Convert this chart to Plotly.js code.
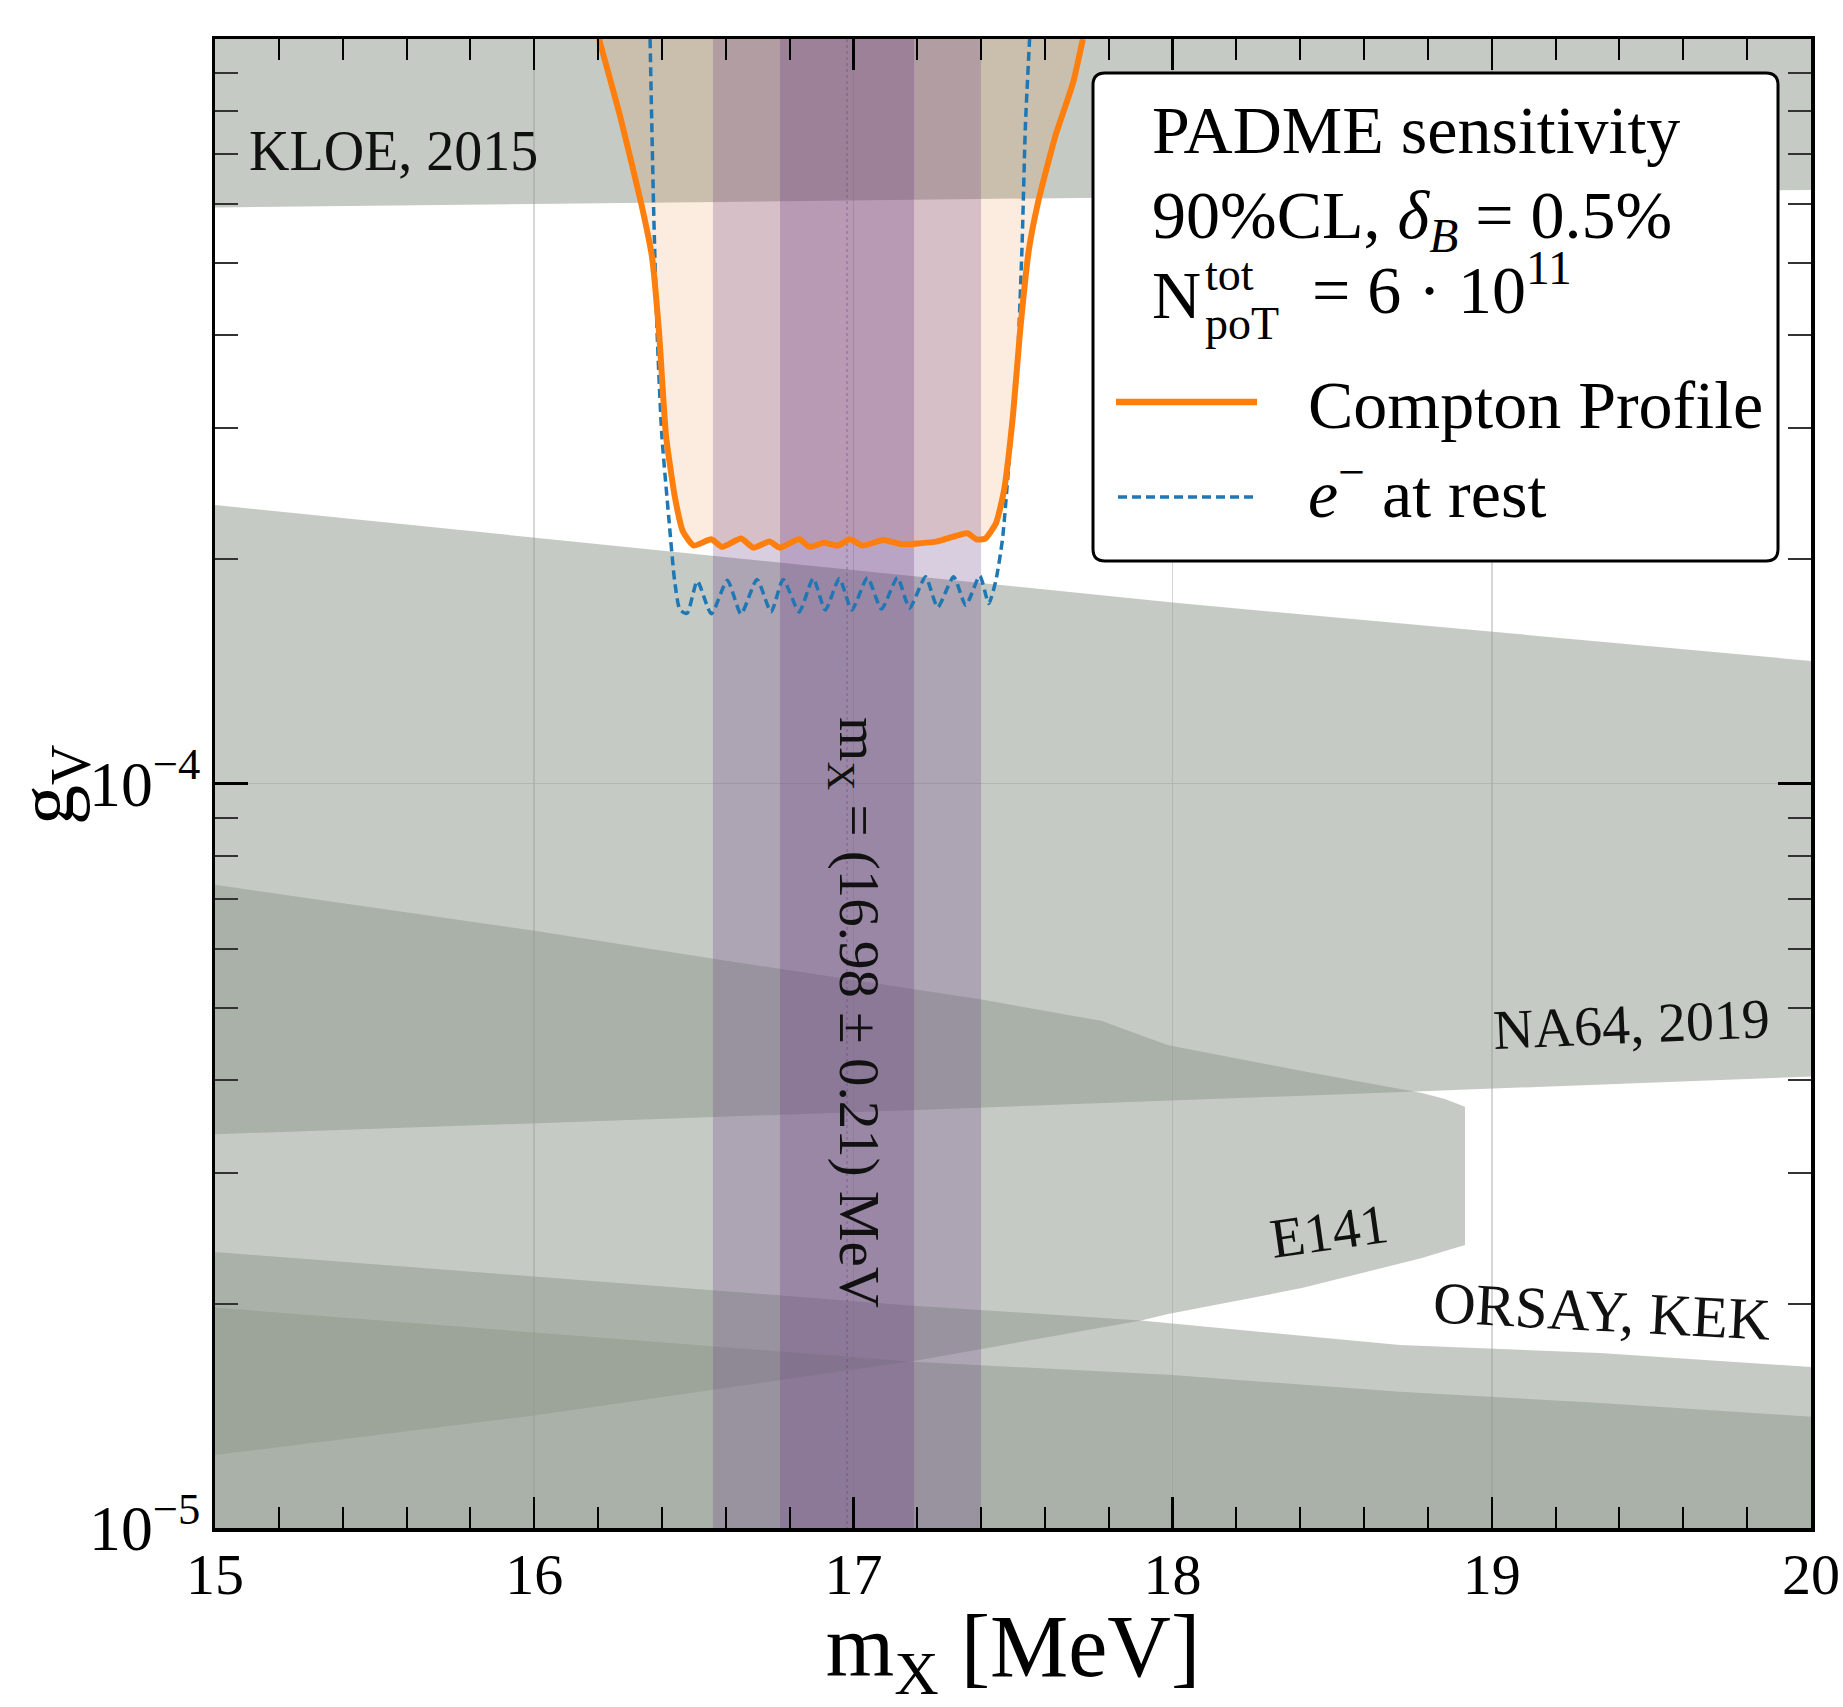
<!DOCTYPE html>
<html><head><meta charset="utf-8">
<script src="https://cdn.plot.ly/plotly-3.0.1.min.js"></script>
<style>html,body{margin:0;padding:0;background:#fff}</style>
</head><body><div id="chart" style="width:1843px;height:1707px"></div>
<script>
// ---------------- data (m_X in MeV, g_V) ----------------
const comptonX = [16.203, 16.269, 16.335, 16.369, 16.391, 16.413, 16.441, 16.466, 16.500, 16.555, 16.588, 16.648, 16.687, 16.737, 16.769, 16.830, 16.863, 16.907, 16.951, 16.989, 17.028, 17.094, 17.149, 17.259, 17.357, 17.385, 17.413, 17.447, 17.472, 17.500, 17.522, 17.550, 17.578, 17.632, 17.688, 17.719];
const comptonG = [1.0e-3, 7.88e-4, 6.02e-4, 5.10e-4, 4.04e-4, 2.93e-4, 2.42e-4, 2.18e-4, 2.087e-4, 2.128e-4, 2.079e-4, 2.133e-4, 2.074e-4, 2.113e-4, 2.074e-4, 2.128e-4, 2.079e-4, 2.105e-4, 2.087e-4, 2.128e-4, 2.087e-4, 2.123e-4, 2.096e-4, 2.113e-4, 2.168e-4, 2.128e-4, 2.133e-4, 2.238e-4, 2.478e-4, 3.126e-4, 4.04e-4, 5.22e-4, 6.02e-4, 7.39e-4, 8.73e-4, 1.0e-3];

const restX = [16.363, 16.374, 16.385, 16.400, 16.422, 16.440, 16.457, 16.479, 16.511, 16.555, 16.605, 16.648, 16.698, 16.742, 16.780, 16.830, 16.874, 16.912, 16.956, 16.995, 17.044, 17.088, 17.138, 17.176, 17.226, 17.264, 17.314, 17.352, 17.396, 17.424, 17.446, 17.467, 17.489, 17.512, 17.528, 17.539, 17.552];
const restG = [1.0e-3, 5.95e-4, 4.04e-4, 2.93e-4, 2.266e-4, 1.871e-4, 1.71e-4, 1.693e-4, 1.87e-4, 1.69e-4, 1.875e-4, 1.69e-4, 1.88e-4, 1.70e-4, 1.88e-4, 1.70e-4, 1.885e-4, 1.71e-4, 1.885e-4, 1.71e-4, 1.89e-4, 1.715e-4, 1.89e-4, 1.72e-4, 1.895e-4, 1.725e-4, 1.895e-4, 1.735e-4, 1.90e-4, 1.745e-4, 1.871e-4, 2.128e-4, 2.75e-4, 3.555e-4, 5.22e-4, 7.68e-4, 1.0e-3];

const kloeX = [15, 17.5, 20];
const kloeLow = [5.94e-4, 6.10e-4, 6.27e-4];

const na64UpX = [15, 18, 20];
const na64Up = [2.366e-4, 1.75e-4, 1.461e-4];
const na64LowX = [15, 17.18, 18.78, 20];
const na64Low = [3.38e-5, 3.64e-5, 3.86e-5, 4.04e-5];

const e141UpX = [15.0, 15.99, 16.557, 17.177, 17.397, 17.776, 17.873, 17.986, 18.405, 18.781, 18.853, 18.916];
const e141Up = [7.31e-5, 6.35e-5, 5.82e-5, 5.30e-5, 5.13e-5, 4.80e-5, 4.64e-5, 4.45e-5, 4.11e-5, 3.84e-5, 3.77e-5, 3.68e-5];
const e141LowX = [18.916, 18.781, 18.405, 17.986, 17.901, 17.209, 15.99, 15.0];
const e141Low = [2.40e-5, 2.305e-5, 2.10e-5, 1.938e-5, 1.90e-5, 1.681e-5, 1.414e-5, 1.253e-5];

const orsayX = [15, 17.177, 17.901, 18.712, 19.339, 20];
const orsayUp = [2.348e-5, 1.99e-5, 1.90e-5, 1.761e-5, 1.718e-5, 1.645e-5];
const kekX = [15, 17.177, 17.986, 18.712, 19.339, 20];
const kekUp = [1.977e-5, 1.673e-5, 1.606e-5, 1.524e-5, 1.472e-5, 1.411e-5];

const x17Mass = 16.98;
const x17Sigma = 0.21;

const xRange = [15, 20];
const gRange = [1e-5, 1e-3];
const gCeil = 2e-3, gFloor = 5e-6;   // bounds of the regions beyond the frame
const xTicks = [15, 16, 17, 18, 19, 20];

// ---------------- styling ----------------
const FONT = 'Liberation Serif, Times New Roman, serif';
const grayFill = 'rgba(146,154,143,0.53)';
const bandOuter = 'rgba(103,55,131,0.25)';
const bandInner = 'rgba(103,55,131,0.27)';
const orange = '#ff7f0e';
const blue = '#1f77b4';

function fillTrace(name, x, y, color) {
  return {type: 'scatter', mode: 'lines', name: name, x: x, y: y, fill: 'toself',
    fillcolor: color, line: {width: 0, color: color}, hoverinfo: 'skip', showlegend: false};
}
const rev = a => a.slice().reverse();

const traces = [
  fillTrace('KLOE, 2015', kloeX.concat([kloeX[kloeX.length-1], kloeX[0]]), kloeLow.concat([gCeil, gCeil]), grayFill),
  fillTrace('NA64, 2019', na64UpX.concat(rev(na64LowX)), na64Up.concat(rev(na64Low)), grayFill),
  fillTrace('E141', e141UpX.concat(e141LowX), e141Up.concat(e141Low), grayFill),
  fillTrace('ORSAY', orsayX.concat([orsayX[orsayX.length-1], orsayX[0]]), orsayUp.concat([gFloor, gFloor]), grayFill),
  fillTrace('KEK', kekX.concat([kekX[kekX.length-1], kekX[0]]), kekUp.concat([gFloor, gFloor]), grayFill),
  fillTrace('Compton fill', comptonX, comptonG, 'rgba(235,130,40,0.15)'),
  fillTrace('X17 2 sigma', [x17Mass-2*x17Sigma, x17Mass+2*x17Sigma, x17Mass+2*x17Sigma, x17Mass-2*x17Sigma], [gFloor, gFloor, gCeil, gCeil], bandOuter),
  fillTrace('X17 1 sigma', [x17Mass-x17Sigma, x17Mass+x17Sigma, x17Mass+x17Sigma, x17Mass-x17Sigma], [gFloor, gFloor, gCeil, gCeil], bandInner),
  {type: 'scatter', mode: 'lines', x: [x17Mass, x17Mass], y: [gFloor, gCeil], hoverinfo: 'skip', showlegend: false,
    line: {color: 'rgba(103,55,131,0.35)', width: 1.5, dash: 'dot'}},
  {type: 'scatter', mode: 'lines', name: 'e⁻ at rest', x: restX, y: restG, hoverinfo: 'skip', showlegend: false,
    line: {color: blue, width: 3.5, dash: '9px,5px', shape: 'spline', smoothing: 0.6}},
  {type: 'scatter', mode: 'lines', name: 'Compton Profile', x: comptonX, y: comptonG, hoverinfo: 'skip', showlegend: false,
    line: {color: orange, width: 6, shape: 'spline', smoothing: 0.5}}
];

// plot area in px: left 215, right 1811, top 39, bottom 1528
const L = 215, R = 1811, T = 39, B = 1528;
const px = v => (v - L) / (R - L);
const py = v => (B - v) / (B - T);

// legend frame (rounded)
const lx0 = px(1093), lx1 = px(1778), ly1 = py(73), ly0 = py(561);
const rx = 12 / (R - L), ry = 12 / (B - T);
const legendPath = `M${lx0+rx},${ly1} L${lx1-rx},${ly1} Q${lx1},${ly1} ${lx1},${ly1-ry} L${lx1},${ly0+ry} Q${lx1},${ly0} ${lx1-rx},${ly0} L${lx0+rx},${ly0} Q${lx0},${ly0} ${lx0},${ly0+ry} L${lx0},${ly1-ry} Q${lx0},${ly1} ${lx0+rx},${ly1} Z`;

const shapes = [
  {type: 'path', xref: 'paper', yref: 'paper', path: legendPath, fillcolor: 'white', line: {color: 'black', width: 3}, layer: 'above'},
  {type: 'line', xref: 'paper', yref: 'paper', x0: px(1116), x1: px(1257), y0: py(402), y1: py(402), line: {color: orange, width: 6.5}, layer: 'above'},
  {type: 'line', xref: 'paper', yref: 'paper', x0: px(1118), x1: px(1255), y0: py(497), y1: py(497), line: {color: blue, width: 3.5, dash: '9px,5px'}, layer: 'above'}
];

const LF = 68;
function legText(text, x, y, size) {
  return {xref: 'paper', yref: 'paper', x: x, y: y, xanchor: 'left', yanchor: 'middle', showarrow: false,
    text: text, font: {family: FONT, size: size || LF, color: 'black'}};
}
function dataText(text, x, y, angle, size) {
  return {xref: 'x', yref: 'y', x: x, y: y, xanchor: 'center', yanchor: 'middle', showarrow: false,
    text: text, textangle: angle, font: {family: FONT, size: size || 56, color: '#111'}};
}

const annotations = [
  {xref: 'x', yref: 'y', x: 15.10, y: -3.1504, xanchor: 'left', yanchor: 'middle', showarrow: false,
    text: 'KLOE, 2015', font: {family: FONT, size: 56, color: '#111'}},
  dataText('NA64, 2019', 19.439, -4.323, -2.5),
  dataText('ORSAY, KEK', 19.345, -4.7085, 3, 59),
  dataText('E141', 18.490, -4.601, -8),
  dataText('m<sub>X</sub> = (16.98 ± 0.21) MeV', 17.005, -4.307, 90, 57),
  // y-axis title
  {xref: 'paper', yref: 'paper', x: px(52), y: py(785), xanchor: 'center', yanchor: 'middle', showarrow: false,
    text: 'g<sub>V</sub>', textangle: -90, font: {family: FONT, size: 80, color: 'black'}},
  // legend contents
  legText('PADME sensitivity', px(1150), py(130)),
  legText('90%CL, <i>δ</i><sub><i>B</i></sub> = 0.5%', px(1150), py(219)),
  legText('N', px(1150), py(295)),
  legText('tot', px(1203), py(274), 46),
  legText('poT', px(1203), py(324), 46),
  legText('= 6 · 10<sup>11</sup>', px(1310), py(284.5)),
  legText('Compton Profile', px(1306), py(405)),
  legText('<i>e</i><sup>−</sup> at rest', px(1306), py(489.5))
];

const layout = {
  width: 1843, height: 1707,
  margin: {l: L, r: 1843 - R, t: T, b: 1707 - B, pad: 0},
  paper_bgcolor: 'white', plot_bgcolor: 'white',
  font: {family: FONT, color: 'black'},
  showlegend: false,
  xaxis: {
    range: xRange, tickvals: xTicks, ticktext: xTicks.map(String),
    ticks: 'inside', ticklen: 31, tickwidth: 2.5, tickcolor: 'black',
    showline: true, linewidth: 3.5, linecolor: 'black', mirror: 'allticks',
    showgrid: true, gridcolor: 'rgba(200,200,200,0.75)', gridwidth: 1.5, zeroline: false,
    minor: {ticks: 'inside', ticklen: 21, tickwidth: 2, tickcolor: 'black', dtick: 0.2, showgrid: false},
    tickfont: {family: FONT, size: 58, color: 'black'},
    ticklabelstandoff: -7,
    title: {text: 'm<sub>X</sub> [MeV]', font: {family: FONT, size: 88, color: 'black'}, standoff: 17}
  },
  yaxis: {
    type: 'log', range: [Math.log10(gRange[0]), Math.log10(gRange[1])], dtick: 1, exponentformat: 'power',
    ticks: 'inside', ticklen: 33, tickwidth: 2.5, tickcolor: 'black',
    showline: true, linewidth: 3.5, linecolor: 'black', mirror: 'allticks',
    showgrid: true, gridcolor: 'rgba(200,200,200,0.75)', gridwidth: 1.5, zeroline: false,
    minor: {ticks: 'inside', ticklen: 23, tickwidth: 2, tickcolor: '#333', dtick: 'D1', showgrid: false},
    tickfont: {family: FONT, size: 51, color: 'black'},
    ticklabelstandoff: 1
  },
  shapes: shapes,
  annotations: annotations
};

Plotly.newPlot('chart', traces, layout, {displayModeBar: false, staticPlot: true});
</script>
</body></html>
